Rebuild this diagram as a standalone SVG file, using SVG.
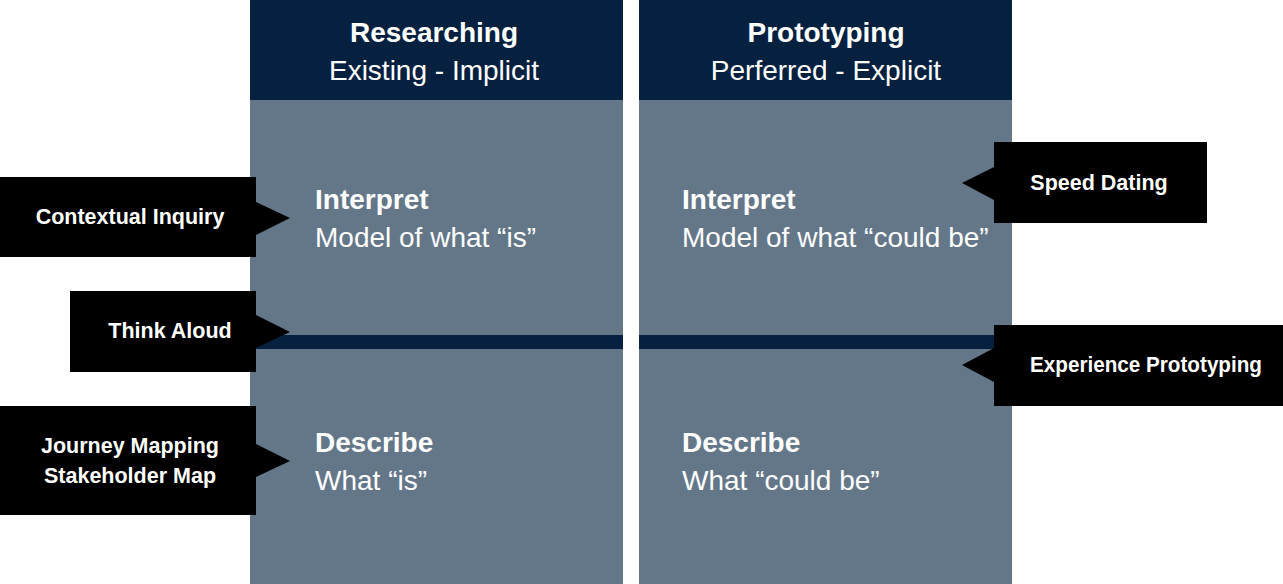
<svg xmlns="http://www.w3.org/2000/svg" width="1283" height="584" viewBox="0 0 1283 584">
  <style>
    .head { fill: #05213f; }
    .body { fill: #647789; }
    .band { fill: #05213f; }
    .callout { fill: #000000; }
    text { font-family: "Liberation Sans", Arial, sans-serif; fill: #ffffff; }
    .title { font-size: 28px; font-weight: bold; text-anchor: middle; }
    .sub { font-size: 28px; text-anchor: middle; }
    .lvl { font-size: 28px; font-weight: bold; }
    .desc { font-size: 28px; }
    .lab { font-size: 21.5px; font-weight: bold; text-anchor: middle; }
  </style>
  <rect width="1283" height="584" fill="#ffffff"/>

  <!-- Researching column -->
  <g id="col-researching">
    <rect class="body" x="250" y="100" width="373" height="484"/>
    <rect class="head" x="250" y="0" width="373" height="100"/>
    <rect class="band" x="250" y="335" width="373" height="14"/>
    <text class="title" x="434" y="42">Researching</text>
    <text class="sub" x="434" y="80">Existing - Implicit</text>
    <text class="lvl" x="315" y="209">Interpret</text>
    <text class="desc" x="315" y="247">Model of what “is”</text>
    <text class="lvl" x="315" y="452">Describe</text>
    <text class="desc" x="315" y="490">What “is”</text>
  </g>

  <!-- Prototyping column -->
  <g id="col-prototyping">
    <rect class="body" x="639" y="100" width="373" height="484"/>
    <rect class="head" x="639" y="0" width="373" height="100"/>
    <rect class="band" x="639" y="335" width="373" height="14"/>
    <text class="title" x="826" y="42">Prototyping</text>
    <text class="sub" x="826" y="80">Perferred - Explicit</text>
    <text class="lvl" x="682" y="209">Interpret</text>
    <text class="desc" x="682" y="247">Model of what “could be”</text>
    <text class="lvl" x="682" y="452">Describe</text>
    <text class="desc" x="682" y="490">What “could be”</text>
  </g>

  <!-- Method callouts -->
  <g id="contextual-inquiry">
    <path class="callout" d="M0,177 H256 V202 L290,218 L256,235 V257 H0 Z"/>
    <text class="lab" x="130" y="224">Contextual Inquiry</text>
  </g>
  <g id="think-aloud">
    <path class="callout" d="M70,291 H256 V315 L290,332 L256,348 V372 H70 Z"/>
    <text class="lab" x="170" y="338">Think Aloud</text>
  </g>
  <g id="journey-mapping">
    <path class="callout" d="M0,406 H256 V444 L290,461 L256,477 V515 H0 Z"/>
    <text class="lab" x="130" y="453">Journey Mapping</text>
    <text class="lab" x="130" y="483">Stakeholder Map</text>
  </g>
  <g id="speed-dating">
    <path class="callout" d="M994,142 H1207 V223 H994 V200 L962,183 L994,167 Z"/>
    <text class="lab" x="1099" y="190">Speed Dating</text>
  </g>
  <g id="experience-prototyping">
    <path class="callout" d="M994,325 H1283 V406 H994 V382 L962,365 L994,348 Z"/>
    <text class="lab" x="1146" y="372" textLength="232" lengthAdjust="spacingAndGlyphs">Experience Prototyping</text>
  </g>
</svg>
